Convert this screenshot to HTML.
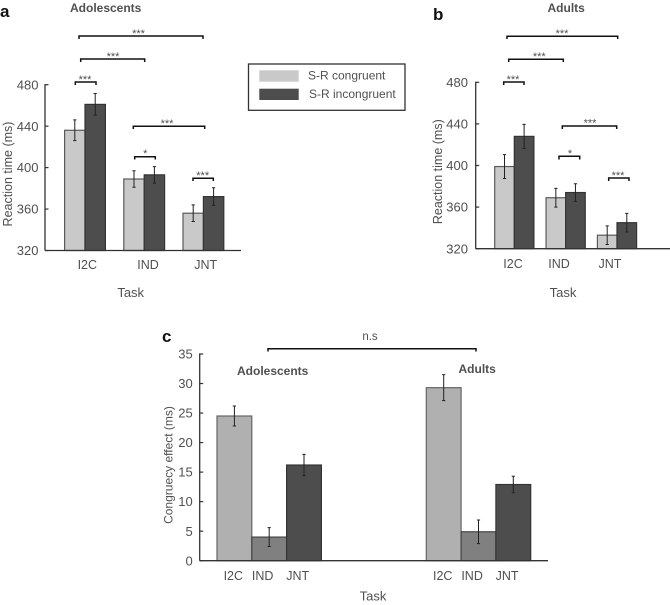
<!DOCTYPE html>
<html lang="en">
<head>
<meta charset="utf-8">
<title>Reaction time and congruency effect</title>
<style>
html,body{margin:0;padding:0;background:#fff;}
svg{display:block;filter:blur(0.25px);}
text{font-family:"Liberation Sans",Arial,sans-serif;fill:#505050;}
.tick{font-size:13px;}
.cat{font-size:12.5px;}
.title{font-size:12px;font-weight:bold;}
.ax{font-size:13px;}
.ylab{font-size:12.5px;}
.letter{font-size:17px;font-weight:bold;fill:#111;}
.star{font-size:11px;text-anchor:middle;}
.br{fill:none;stroke:#111;stroke-width:1.5;}
</style>
</head>
<body>
<svg id="chart" width="670" height="605" viewBox="0 0 670 605" xmlns="http://www.w3.org/2000/svg">
  <g>
    <text class="letter" x="0" y="17">a</text>
    <text class="title" x="70" y="12">Adolescents</text>
    <text class="ylab" transform="translate(12,174) rotate(-90)" text-anchor="middle">Reaction time (ms)</text>
    <text class="ax" x="130.7" y="297" text-anchor="middle">Task</text>
    <path class="br" d="M79 39V36H203V39"/>
    <text class="star" x="138.5" y="37">***</text>
    <path class="br" d="M80.7 62V59H144.7V62"/>
    <text class="star" x="113" y="60">***</text>
    <path class="br" d="M75.3 85V82H96V85"/>
    <text class="star" x="85" y="83">***</text>
    <path class="br" d="M133.3 129V126.3H204.7V129"/>
    <text class="star" x="167" y="127">***</text>
    <path class="br" d="M134.7 159.5V156.7H155.3V159.5"/>
    <text class="star" x="145.3" y="157">*</text>
    <path class="br" d="M193 181V178.3H213.3V181"/>
    <text class="star" x="202.7" y="179">***</text>
  </g>
  <g>
    <text class="letter" x="433" y="20">b</text>
    <text class="title" x="547.5" y="12">Adults</text>
    <text class="ylab" transform="translate(442,171.7) rotate(-90)" text-anchor="middle">Reaction time (ms)</text>
    <text class="ax" x="563" y="297" text-anchor="middle">Task</text>
    <path class="br" d="M507 39V36.3H617.7V39"/>
    <text class="star" x="562" y="37">***</text>
    <path class="br" d="M508.7 62V59.3H563.3V62"/>
    <text class="star" x="539.3" y="60">***</text>
    <path class="br" d="M503.7 85V82H524V85"/>
    <text class="star" x="513" y="83">***</text>
    <path class="br" d="M562.3 129V126H616.7V129"/>
    <text class="star" x="590" y="126.5">***</text>
    <path class="br" d="M559 159.5V156.3H579.7V159.5"/>
    <text class="star" x="570" y="157">*</text>
    <path class="br" d="M608.7 181V178H629V181"/>
    <text class="star" x="618" y="179">***</text>
  </g>
  <g>
    <rect x="248.5" y="64" width="156.5" height="46.3" fill="#fff" stroke="#333" stroke-width="1.3"/>
    <rect x="259.3" y="70.3" width="39.4" height="11.4" fill="#c9c9c9"/>
    <text x="308" y="79.5" style="font-size:12px">S-R congruent</text>
    <rect x="259.3" y="88.7" width="39.4" height="11.3" fill="#4d4d4d"/>
    <text x="309" y="98" style="font-size:12px">S-R incongruent</text>
  </g>
  <g>
    <text class="letter" x="162" y="342">c</text>
    <text class="title" x="237" y="375">Adolescents</text>
    <text class="title" x="458.5" y="373">Adults</text>
    <text class="ylab" style="font-size:12px" transform="translate(172.5,465) rotate(-90)" text-anchor="middle">Congruecy effect (ms)</text>
    <text class="ax" x="373" y="600.5" text-anchor="middle">Task</text>
    <path class="br" d="M268 351.5V348.7H476V351.5"/>
    <text x="370" y="340" text-anchor="middle" style="font-size:11.5px">n.s</text>
  </g>
  <g id="marks"></g>
</svg>
<script>
// Panel a: adolescents reaction time (ms)
const categories = ['I2C', 'IND', 'JNT'];
const rtTicks = [320, 360, 400, 440, 480];
const aCongruent = [436, 389, 356];
const aIncongruent = [461, 393, 372];
const aCongruentErr = [10, 8, 8];
const aIncongruentErr = [10.5, 8, 8.5];
// Panel b: adults reaction time (ms)
const bCongruent = [399, 369, 333];
const bIncongruent = [428, 374, 345];
const bCongruentErr = [11.5, 9, 9];
const bIncongruentErr = [11.5, 8.5, 9];
// Panel c: congruency effect (ms)
const effectTicks = [0, 5, 10, 15, 20, 25, 30, 35];
const cAdolescents = [24.5, 4, 16.2];
const cAdults = [29.3, 4.9, 12.9];
const cAdolescentsErr = [1.7, 1.6, 1.8];
const cAdultsErr = [2.2, 2, 1.4];

const NS = 'http://www.w3.org/2000/svg';
const root = document.getElementById('marks');

function add(tag, props, text) {
  const el = document.createElementNS(NS, tag);
  for (const k in props) el.setAttribute(k, props[k]);
  if (text !== undefined) el.textContent = text;
  root.appendChild(el);
  return el;
}

function linearY(domainLo, domainHi, pxLo, pxHi) {
  return v => pxLo + (v - domainLo) * (pxHi - pxLo) / (domainHi - domainLo);
}

// Category labels sit on a regular step; the middle label carries a small offset.
function catLabelX(first, step, midNudge, i) {
  return first + step * i + (i === 1 ? midNudge : 0);
}

function drawAxes(prefix, y, ticks, axisX, axisEnd, labelRight) {
  const base = y(ticks[0]);
  const top = y(ticks[ticks.length - 1]);
  ticks.forEach(t => {
    const mark = add('line', {x1: axisX, x2: axisX + 3.5, y1: y(t), y2: y(t), stroke: '#333', 'stroke-width': 1.2});
    
    
    const label = add('text', {class: 'tick', x: labelRight, y: y(t) + 4.6, 'text-anchor': 'end'}, String(t));
    
    
  });
  const yAxis = add('line', {x1: axisX, x2: axisX, y1: top - 0.6, y2: base, stroke: '#333', 'stroke-width': 1.3});
  
  
  return function drawBaseline() {
    const xAxis = add('line', {x1: axisX, x2: axisEnd, y1: base, y2: base, stroke: '#333', 'stroke-width': 1.3});
    
    
  };
}

function drawBar(name, x, width, value, err, y, baseValue, fill, stroke) {
  const top = y(value);
  const bar = add('rect', {x: x, y: top, width: width, height: y(baseValue) - top, fill: fill, stroke: stroke, 'stroke-width': 1.2});
  
  
  const cx = x + width / 2;
  const hi = y(value + err);
  const lo = y(value - err);
  const whisker = add('path', {
    d: 'M' + cx + ' ' + hi + 'V' + lo + 'M' + (cx - 1.6) + ' ' + hi + 'H' + (cx + 1.6) + 'M' + (cx - 1.6) + ' ' + lo + 'H' + (cx + 1.6),
    fill: 'none', stroke: '#222', 'stroke-width': 1
  });
  
  
}

function drawRtPanel(prefix, opts, congruent, incongruent, congruentErr, incongruentErr) {
  const y = linearY(320, 480, opts.base, opts.top);
  const finish = drawAxes(prefix, y, rtTicks, opts.axisX, opts.axisEnd, opts.labelRight);
  categories.forEach((c, i) => {
    const center = opts.first + opts.step * i;
    drawBar(prefix + '-bar-' + c + '-congruent', center - opts.barW, opts.barW, congruent[i], congruentErr[i], y, 320, '#c9c9c9', '#5a5a5a');
    drawBar(prefix + '-bar-' + c + '-incongruent', center, opts.barW, incongruent[i], incongruentErr[i], y, 320, '#4d4d4d', '#333');
    const label = add('text', {class: 'cat', x: catLabelX(opts.labelFirst, opts.labelStep, opts.labelNudge, i), y: opts.labelY, 'text-anchor': 'middle'}, c);
    
    
  });
  finish();
}

drawRtPanel('panel-a', {base: 250.5, top: 84.7, axisX: 45, axisEnd: 241, labelRight: 38.5, first: 85, step: 59.2, barW: 20.4, labelFirst: 87.3, labelStep: 59.2, labelNudge: 1.5, labelY: 269}, aCongruent, aIncongruent, aCongruentErr, aIncongruentErr);
drawRtPanel('panel-b', {base: 248.7, top: 82.3, axisX: 475.7, axisEnd: 670, labelRight: 468, first: 514.3, step: 51.35, barW: 19.6, labelFirst: 513, labelStep: 48.5, labelNudge: -2.5, labelY: 268}, bCongruent, bIncongruent, bCongruentErr, bIncongruentErr);

// Panel c
const yC = linearY(0, 35, 560.7, 354);
const finishC = drawAxes('panel-c', yC, effectTicks, 199.7, 548, 192.7);
const cFills = ['#b0b0b0', '#808080', '#4d4d4d'];
const cStrokes = ['#666', '#444', '#333'];
function drawEffectGroup(prefix, values, errs, firstX, labelFirst) {
  categories.forEach((c, i) => {
    drawBar(prefix + '-bar-' + c, firstX + 34.8 * i, 34.8, values[i], errs[i], yC, 0, cFills[i], cStrokes[i]);
    const label = add('text', {class: 'cat', x: catLabelX(labelFirst, 32.2, -2.8, i), y: 580, 'text-anchor': 'middle'}, c);
    
    
  });
}
drawEffectGroup('panel-c-adolescents', cAdolescents, cAdolescentsErr, 217, 233.3);
drawEffectGroup('panel-c-adults', cAdults, cAdultsErr, 426.3, 442.7);
finishC();
</script>
</body>
</html>
